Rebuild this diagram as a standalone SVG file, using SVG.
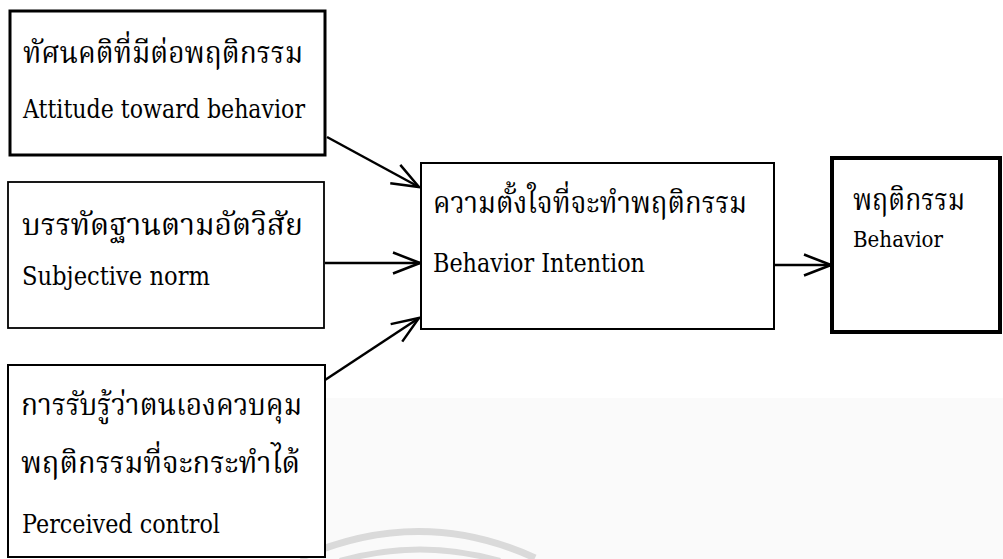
<svg xmlns="http://www.w3.org/2000/svg" width="1003" height="559" viewBox="0 0 1003 559">
  <style>
    .box { fill: #ffffff; stroke: #000000; }
    .th { font-family: "Noto Serif Thai", "Noto Sans Thai", "Noto Sans", "DejaVu Sans", sans-serif; font-size: 30px; fill: #000000; }
    .en { font-family: "DejaVu Serif", "Liberation Serif", serif; font-size: 26px; fill: #000000; }
    .conn { stroke: #000000; stroke-width: 2.5; fill: none; marker-end: url(#openArrow); }
  </style>
  <defs>
    <marker id="openArrow" markerUnits="userSpaceOnUse" markerWidth="32" markerHeight="26" viewBox="-29 -13 32 26" refX="0" refY="0" orient="auto">
      <path d="M -27,-10.5 L 0,0 L -27,10.5" fill="none" stroke="#000000" stroke-width="2.5"/>
    </marker>
  </defs>
  <rect x="0" y="0" width="1003" height="559" fill="#ffffff"/>
  <rect x="323" y="398" width="680" height="161" fill="#fafafa"/>
  <g id="watermark" fill="none" stroke="#dadada">
    <path d="M 300,558 Q 420,505 535,558" stroke-width="7"/>
    <path d="M 340,561 Q 420,538 500,561" stroke-width="6"/>
  </g>

  <g id="connectors">
    <line class="conn" x1="327" y1="137" x2="419" y2="187"/>
    <line class="conn" x1="325" y1="263" x2="420" y2="263"/>
    <line class="conn" x1="325" y1="380" x2="419" y2="318"/>
    <line class="conn" x1="775" y1="265" x2="831" y2="265"/>
  </g>

  <g id="attitude">
    <rect class="box" x="10" y="11" width="315" height="144" stroke-width="3"/>
    <text class="th" x="23" y="63" textLength="280" lengthAdjust="spacingAndGlyphs">ทัศนคติที่มีต่อพฤติกรรม</text>
    <text class="en" x="23" y="118" textLength="282" lengthAdjust="spacingAndGlyphs">Attitude toward behavior</text>
  </g>

  <g id="subjective-norm">
    <rect class="box" x="8" y="182" width="316" height="146" stroke-width="1.8"/>
    <text class="th" x="22" y="235" textLength="281" lengthAdjust="spacingAndGlyphs">บรรทัดฐานตามอัตวิสัย</text>
    <text class="en" x="22" y="285" textLength="188" lengthAdjust="spacingAndGlyphs">Subjective norm</text>
  </g>

  <g id="perceived-control">
    <rect class="box" x="8" y="365" width="317" height="192" stroke-width="2"/>
    <text class="th" x="21" y="415" textLength="281" lengthAdjust="spacingAndGlyphs">การรับรู้ว่าตนเองควบคุม</text>
    <text class="th" x="21" y="473" textLength="279" lengthAdjust="spacingAndGlyphs">พฤติกรรมที่จะกระทำได้</text>
    <text class="en" x="22" y="533" textLength="198" lengthAdjust="spacingAndGlyphs">Perceived control</text>
  </g>

  <g id="intention">
    <rect class="box" x="421" y="163" width="353" height="166" stroke-width="2"/>
    <text class="th" x="433" y="213" textLength="314" lengthAdjust="spacingAndGlyphs">ความตั้งใจที่จะทำพฤติกรรม</text>
    <text class="en" x="433" y="272" textLength="212" lengthAdjust="spacingAndGlyphs">Behavior Intention</text>
  </g>

  <g id="behavior">
    <rect class="box" x="832" y="158" width="168" height="174" stroke-width="4"/>
    <text class="th" x="853" y="210" textLength="112" lengthAdjust="spacingAndGlyphs">พฤติกรรม</text>
    <text class="en" x="853" y="247" textLength="90" lengthAdjust="spacingAndGlyphs" style="font-size:23px">Behavior</text>
  </g>
</svg>
